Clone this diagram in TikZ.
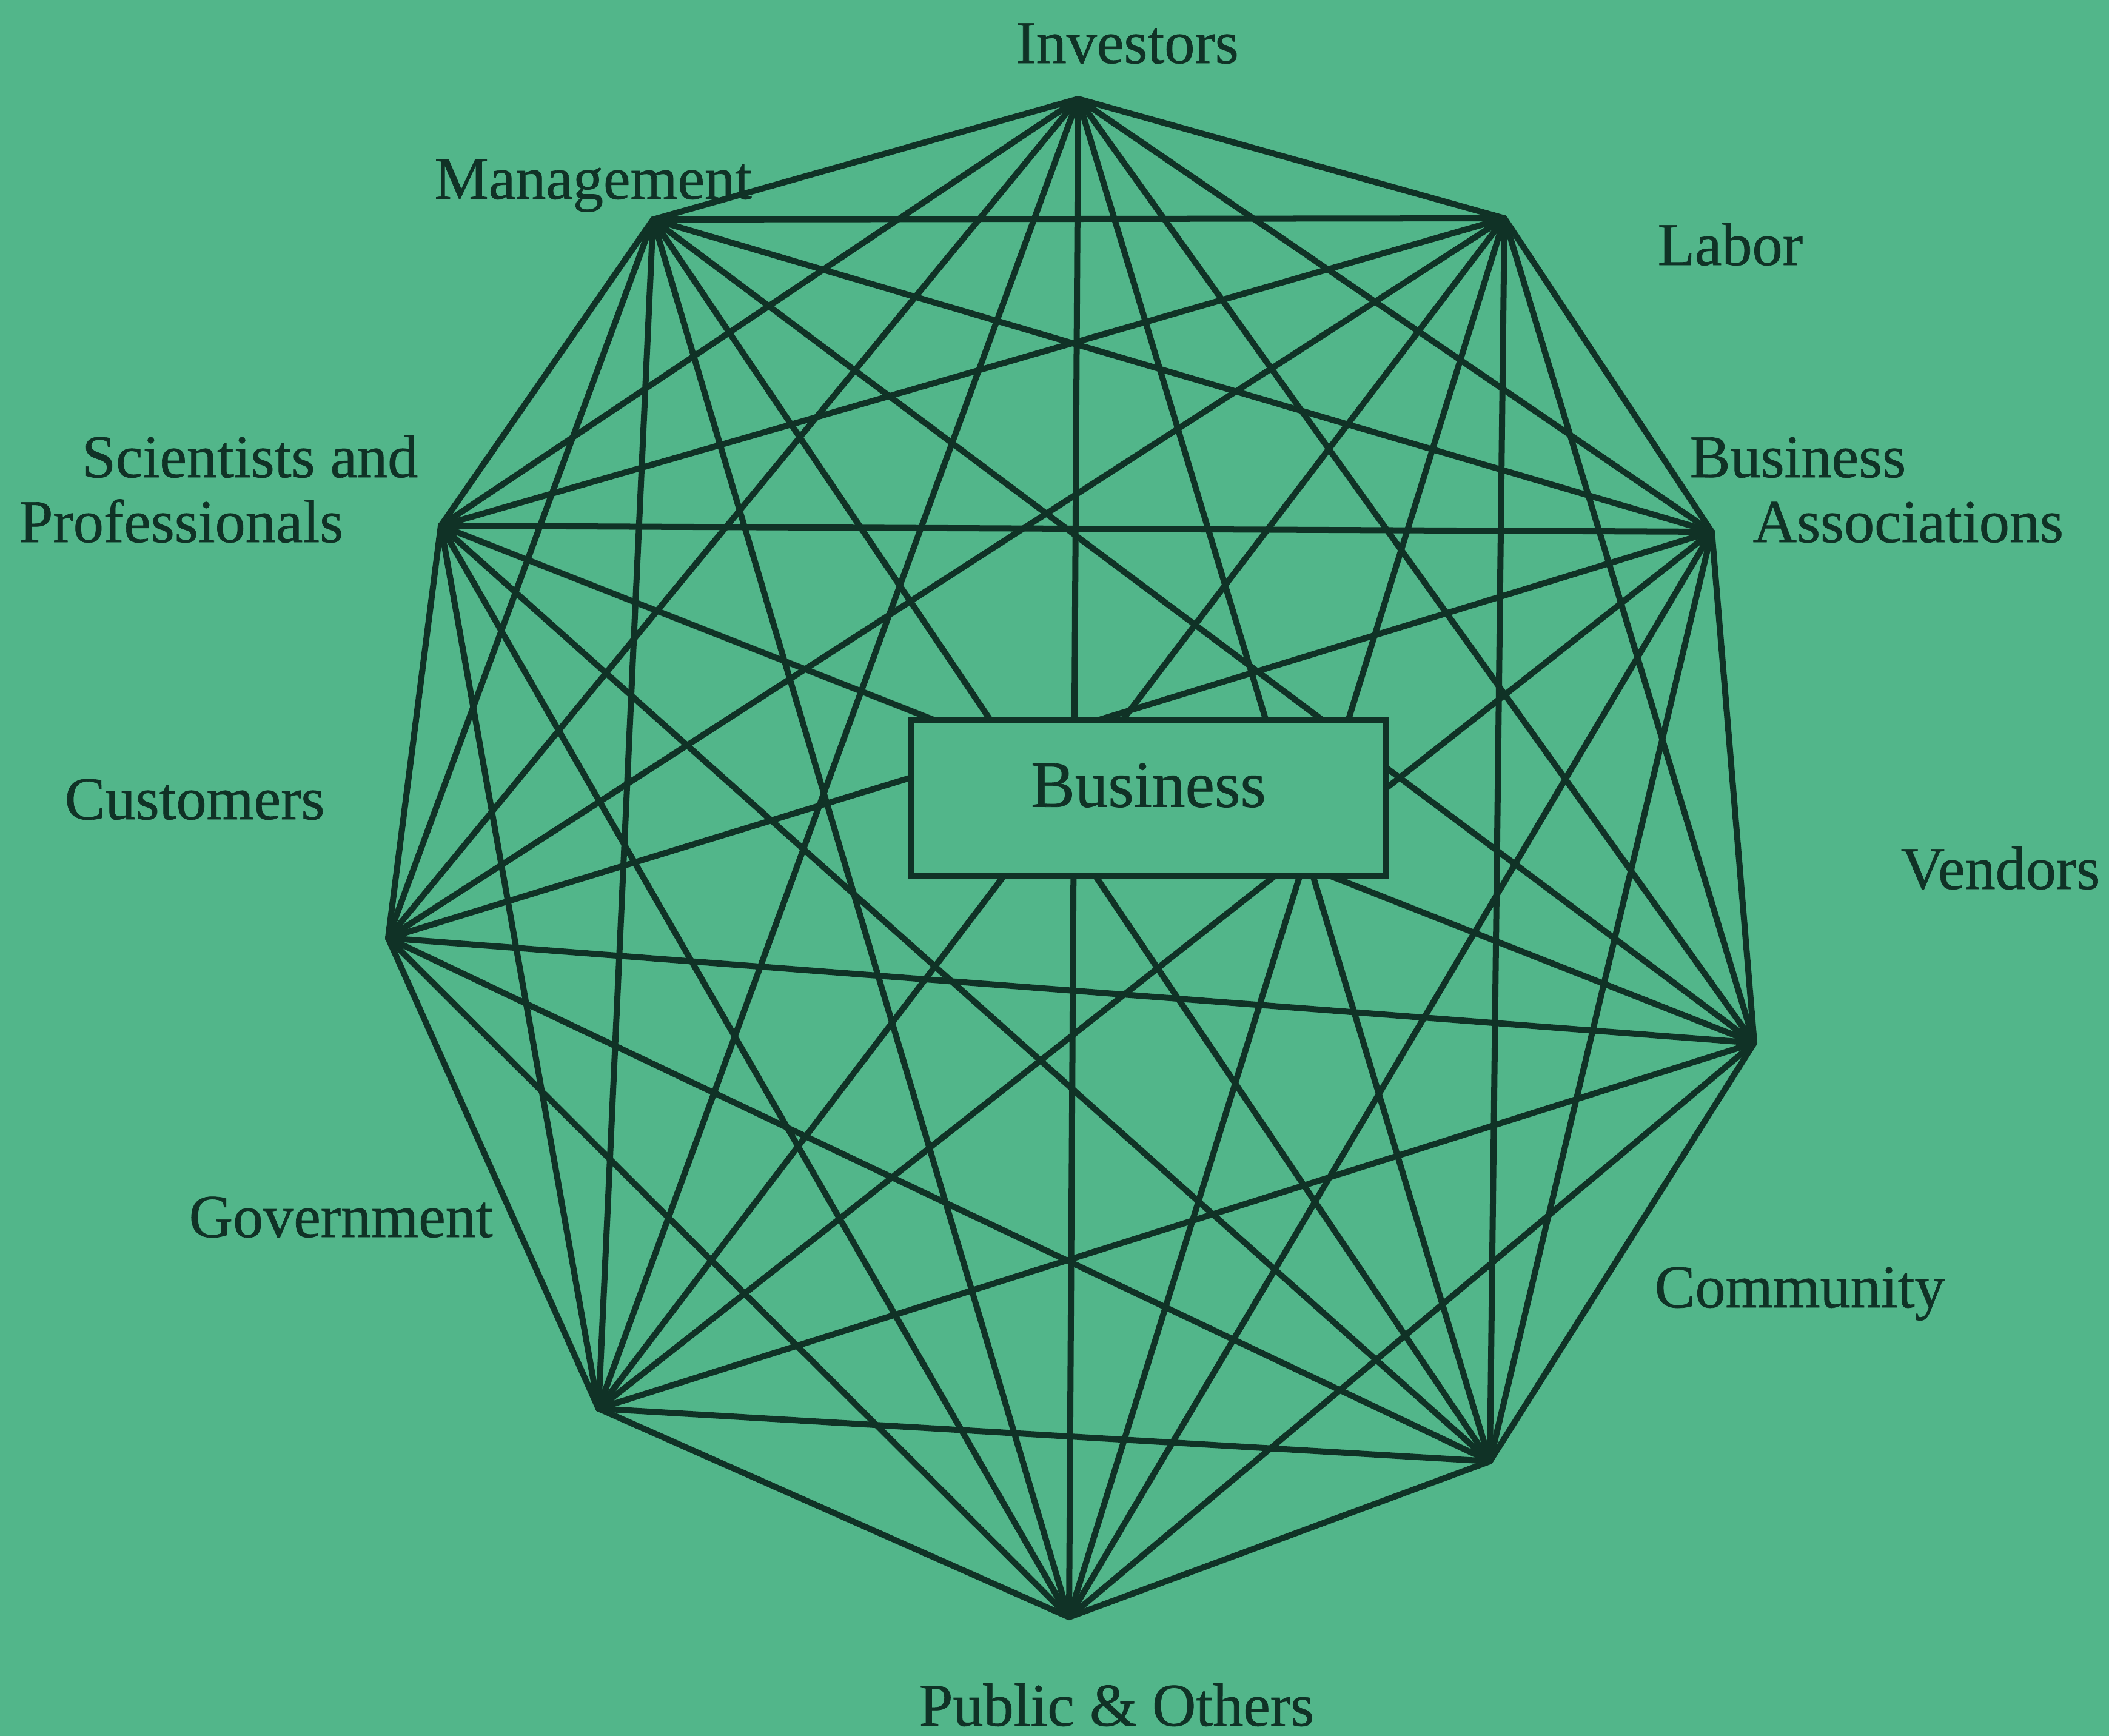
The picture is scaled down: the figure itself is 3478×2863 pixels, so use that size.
\documentclass[tikz,border=0pt]{standalone}
\usepackage{fontspec}
\setmainfont{Liberation Serif}[FakeBold=0.7]
\definecolor{paper}{RGB}{82,182,138}
\definecolor{ink}{RGB}{16,50,38}
\begin{document}
\begin{tikzpicture}[x=0.01cm,y=-0.01cm,
  link/.style={draw=ink,line width=0.1cm,line cap=round,line join=round},
  who/.style={text=ink,font=\fontsize{28.5}{30}\selectfont,inner sep=0pt},
  hub/.style={draw=ink,fill=paper,line width=0.1cm,minimum width=7.82cm,
    minimum height=2.57cm,text=ink,font=\fontsize{31}{33}\selectfont,
    text height=0.29cm,text depth=0cm,inner sep=0pt}]
% page
\fill[paper] (0,0) rectangle (3478,2863);
\useasboundingbox (0,0) rectangle (3478,2863);
% stakeholder points, clockwise from the top
\coordinate (v1) at (1778,163);   % Investors
\coordinate (v2) at (2481,360);   % Labor
\coordinate (v3) at (2823,877);   % Business Associations
\coordinate (v4) at (2893,1720);  % Vendors
\coordinate (v5) at (2457,2410);  % Community
\coordinate (v6) at (1763,2667);  % Public & Others
\coordinate (v7) at (987,2323);   % Government
\coordinate (v8) at (640,1547);   % Customers
\coordinate (v9) at (727,867);    % Scientists and Professionals
\coordinate (v10) at (1077,362);  % Management
% every stakeholder tied to every other one
\foreach \i in {1,...,9}{
  \pgfmathtruncatemacro\jfirst{\i+1}
  \foreach \j in {\jfirst,...,10}{
    \draw[link] (v\i) -- (v\j);
  }
}
% the firm in the middle
\node[hub] (biz) at (1894,1316) {Business};
% names
\node[who,anchor=base] (t-inv) at (1859,104) {Investors};
\node[who,anchor=base west] (t-mgt) at (716,328) {Management};
\node[who,anchor=base west] (t-lab) at (2733,437) {Labor};
\node[who,anchor=base east] (t-sci1) at (690,787) {Scientists and};
\node[who,anchor=base west] (t-sci2) at (31,894) {Professionals};
\node[who,anchor=base west] (t-bas1) at (2786,787) {Business};
\node[who,anchor=base west] (t-bas2) at (2890,894) {Associations};
\node[who,anchor=base west] (t-cus) at (106,1351) {Customers};
\node[who,anchor=base west] (t-ven) at (3134,1466) {Vendors};
\node[who,anchor=base west] (t-gov) at (311,2040) {Government};
\node[who,anchor=base west] (t-com) at (2728,2156) {Community};
\node[who,anchor=base west] (t-pub) at (1515,2846) {Public \& Others};
\end{tikzpicture}
\end{document}
